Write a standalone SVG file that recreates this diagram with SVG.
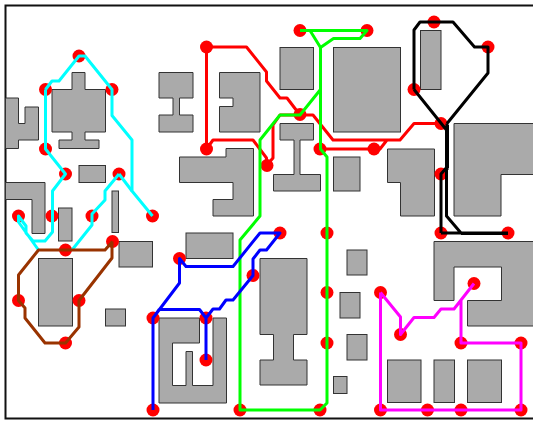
<svg xmlns="http://www.w3.org/2000/svg" width="533" height="424" viewBox="0 0 533 424">
<style>
.o{fill:#aaa;stroke:#333;stroke-width:1}
.n{fill:none;stroke-width:3;stroke-linejoin:round;stroke-linecap:butt}
.d{fill:#f00}
.cy{stroke:#0ff}.re{stroke:#f00}.gr{stroke:#0f0}.bl{stroke:#00f}.bk{stroke:#000}.ma{stroke:#f0f}.br{stroke:#930}
</style>
<rect width="533" height="424" fill="#fff"/>
<path d="M533 5.500H5.500V418.500H533" fill="none" stroke="#111" stroke-width="2"/>
<g id="obstacles">
<path class="o" d="M5.500 98H18.500V123.500H25V107H38.500V140H18.500V148.500H5.500Z"/>
<path class="o" d="M72 72.500H85V89.500H105.500V132H85V140H99V148.500H59V140H72V132H52V89.500H72Z"/>
<rect class="o" x="79" y="165.500" width="26.500" height="17"/>
<path class="o" d="M5.500 182.500H45V233.500H32V199.500H5.500Z"/>
<rect class="o" x="58.500" y="208" width="13.500" height="33"/>
<rect class="o" x="112" y="191" width="6.500" height="41.500"/>
<rect class="o" x="119" y="241.500" width="33.500" height="25.500"/>
<rect class="o" x="38.500" y="258.500" width="34" height="67.500"/>
<rect class="o" x="105.500" y="309" width="20" height="17"/>
<path class="o" d="M159 72.500H193V98H179.500V115H193V132H159V115H173V98H159Z"/>
<path class="o" d="M219.500 72.500H260V132H219.500V106.500H233V98H219.500Z"/>
<rect class="o" x="280" y="47.500" width="33.500" height="42"/>
<rect class="o" x="333.500" y="47.500" width="67" height="84.500"/>
<path class="o" d="M280 123.500H313.500V140H300V174.500H320.500V191H273.500V174.500H294V140H280Z"/>
<rect class="o" x="333.500" y="157" width="26.500" height="34"/>
<path class="o" d="M226 148.500H253.500V216H213V199.500H233V182.500H179.500V157H226Z"/>
<rect class="o" x="186" y="233" width="47" height="25.500"/>
<path class="o" d="M260 258.500H307V334.500H293.500V360H307V385H260V360H273.500V334.500H260Z"/>
<rect class="o" x="347" y="250" width="20" height="25"/>
<rect class="o" x="340" y="292.500" width="20" height="25.500"/>
<rect class="o" x="347" y="334.500" width="20" height="25.500"/>
<rect class="o" x="333.500" y="376.500" width="13.500" height="17"/>
<path class="o" d="M159 318H199.500V343H172.500V385.500H186V351.500H192.500V385.500H213V318H226.500V403H159Z"/>
<rect class="o" x="420.500" y="30.500" width="20.500" height="59"/>
<path class="o" d="M387.500 149H434.500V216H400.500V182.500H387.500Z"/>
<path class="o" d="M533 123.500H454V216H501V174.500H533"/>
<path class="o" d="M533 241.500H434V300.500H454V267H501.500V300.500H467.500V326H533"/>
<rect class="o" x="387.500" y="360" width="33.500" height="42.500"/>
<rect class="o" x="434" y="360" width="20.500" height="42.500"/>
<rect class="o" x="467.500" y="360" width="34" height="42.500"/>
</g>
<g id="pins">
<circle class="d" cx="79" cy="56" r="6.500"/><circle class="d" cx="45.500" cy="89.500" r="6.500"/><circle class="d" cx="112" cy="89.500" r="6.500"/><circle class="d" cx="45.500" cy="149" r="6.500"/><circle class="d" cx="65.500" cy="174" r="6.500"/><circle class="d" cx="119" cy="174" r="6.500"/><circle class="d" cx="18.500" cy="216" r="6.500"/><circle class="d" cx="52" cy="216" r="6.500"/><circle class="d" cx="92" cy="216" r="6.500"/><circle class="d" cx="152.500" cy="216" r="6.500"/><circle class="d" cx="65.500" cy="250" r="6.500"/><circle class="d" cx="112.500" cy="241.500" r="6.500"/><circle class="d" cx="18.500" cy="300.500" r="6.500"/><circle class="d" cx="79" cy="300.500" r="6.500"/><circle class="d" cx="65.500" cy="343" r="6.500"/>
<circle class="d" cx="206.500" cy="47" r="6.500"/><circle class="d" cx="206.500" cy="149" r="6.500"/><circle class="d" cx="267" cy="165.500" r="6.500"/><circle class="d" cx="300" cy="114.500" r="6.500"/><circle class="d" cx="320" cy="149" r="6.500"/><circle class="d" cx="300" cy="30.500" r="6.500"/><circle class="d" cx="367" cy="30.500" r="6.500"/><circle class="d" cx="374" cy="149" r="6.500"/>
<circle class="d" cx="434" cy="22" r="6.500"/><circle class="d" cx="488" cy="47" r="6.500"/><circle class="d" cx="414" cy="89.500" r="6.500"/><circle class="d" cx="441" cy="123.500" r="6.500"/><circle class="d" cx="441" cy="174" r="6.500"/><circle class="d" cx="441" cy="233" r="6.500"/><circle class="d" cx="508" cy="233" r="6.500"/>
<circle class="d" cx="280" cy="233" r="6.500"/><circle class="d" cx="327" cy="233" r="6.500"/><circle class="d" cx="179.500" cy="258.500" r="6.500"/><circle class="d" cx="253" cy="275.500" r="6.500"/><circle class="d" cx="327" cy="292.500" r="6.500"/><circle class="d" cx="327" cy="343" r="6.500"/><circle class="d" cx="153" cy="318" r="6.500"/><circle class="d" cx="206" cy="318" r="6.500"/><circle class="d" cx="206" cy="360" r="6.500"/><circle class="d" cx="153" cy="410" r="6.500"/><circle class="d" cx="240" cy="410" r="6.500"/><circle class="d" cx="320" cy="410" r="6.500"/>
<circle class="d" cx="380.500" cy="292.500" r="6.500"/><circle class="d" cx="474" cy="283.500" r="6.500"/><circle class="d" cx="400.500" cy="334.500" r="6.500"/><circle class="d" cx="461" cy="343" r="6.500"/><circle class="d" cx="521" cy="343" r="6.500"/><circle class="d" cx="380.500" cy="410" r="6.500"/><circle class="d" cx="427.500" cy="410" r="6.500"/><circle class="d" cx="461" cy="410" r="6.500"/><circle class="d" cx="521" cy="410" r="6.500"/>
</g>
<g id="connectors">
<path class="n cy" d="M45.500 89.500L52 81H59L79 56H85L112 89.500V115.500L132 140V191L152.500 216M45.500 89.500V149L65.500 174L52.500 191V232L45 241H33L26 233V226L18.500 216V222L38.500 250M119 174L105 191V200L92 214V225L72 250"/>
<path class="n cy" d="M119 174L132 191"/>
<path class="n re" d="M300 115L287 98H280L266.500 81V72L246.500 47H206.500V149L213 140H253L266.500 158V165.500L273 158V125L280 115H313L333 140H400L414 123.500H441M320 149H380L387 140"/>
<path class="n gr" d="M300 30.500H367L360 38.500H333.500L320.500 47.500V149L327 157V403L320 410H240V240L260 216V140L280 115H300L320.500 89.500M310 30.500L320.500 47.500"/>
<path class="n bl" d="M153 410V318L179.500 283V258.500L186 266.500H233L260 233H280L266.500 250H260L253 259V275.500L233 300H226L219.500 309H213L206 318V360M153 318L159 309.500H199.500L206 318"/>
<path class="n bk" d="M414 89.500V30L420 22H453L474.500 47H488V73L447 123.500M414 89.500L446.500 130V216L461 233H508M441 233V174L447 167M441 233H461M447 123.500V170"/>
<path class="n bk" d="M461 233.500H508M447.500 125V168"/>
<path class="n ma" d="M380.500 292.500L400.500 317V334.500L414 317.500H434L441 309H454L474 283.500M380.500 292.500V410H521V343H461V301"/>
<path class="n br" d="M112.500 241.500L105 250H38.500L18.500 275V300.500L25 308V318L45 343H65.500L79 327V300.500L112 258V241.500"/>
</g>
</svg>
